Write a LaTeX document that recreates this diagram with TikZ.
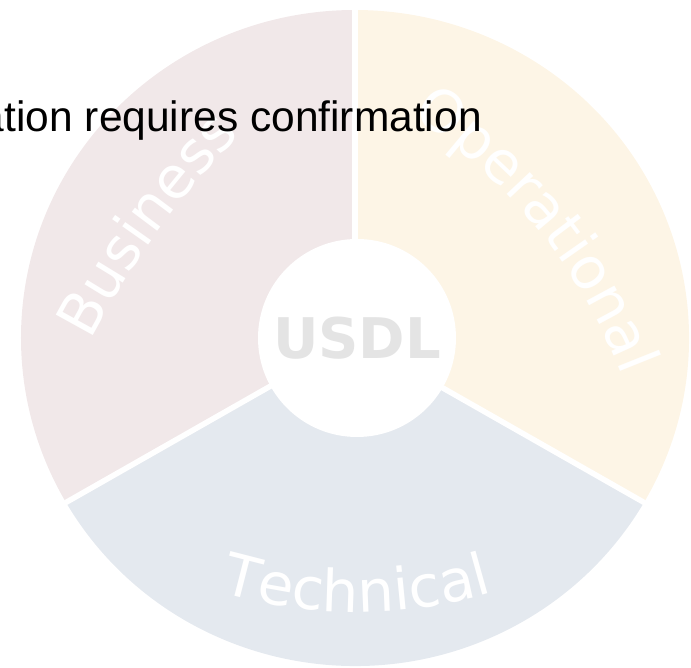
\documentclass[tikz,border=0pt]{standalone}
\usepackage{fontspec}
\usetikzlibrary{decorations.text}
\newfontfamily\labelfont{DejaVu Sans}
\newfontfamily\notefont{Liberation Sans}
\definecolor{businessfill}{RGB}{241,232,233}
\definecolor{operationalfill}{RGB}{253,245,230}
\definecolor{technicalfill}{RGB}{228,233,239}
\definecolor{usdlgray}{RGB}{228,228,228}

\begin{document}
\begin{tikzpicture}[x=1pt, y=1pt,
   gap/.style = {white, line width=5.5},
   ringlabel/.style = {decorate, decoration={text along path, text align=center, text color=white,
      text={|\labelfont\fontsize{58}{58}\selectfont|#1}}}]
   \useasboundingbox (-355,-330) rectangle (336,338);
   \clip (-355,-330) rectangle (336,338);
   \foreach \start/\fillc in {90/businessfill, 210/technicalfill, 330/operationalfill}
      \fill[\fillc] (0,0) -- (\start:334 and 328) arc[start angle=\start, delta angle=120, x radius=334, y radius=328] -- cycle;
   \foreach \a in {90,210,330}
      \draw[gap] (0,0) -- (\a:345 and 340);
   \node[circle, fill=white, minimum size=198, inner sep=0, text=usdlgray,
      font=\labelfont\bfseries\fontsize{56}{56}\selectfont] (usdl) at (2,0) {USDL};
   \path[ringlabel=Business, shift={(509,-407)}] (161:873) arc[start angle=161, end angle=127, radius=873];
   \path[ringlabel=Operational, shift={(-237,-231)}] (70:540) arc[start angle=70, end angle=8, radius=540];
   \path[ringlabel=Technical, shift={(2,205)}] (240:479) arc[start angle=240, end angle=300, radius=479];
   \node[font=\notefont\fontsize{42.5}{42.5}\selectfont, anchor=base east, inner sep=0] (note) at (127,206) {ation requires confirmation};
\end{tikzpicture}
\end{document}
